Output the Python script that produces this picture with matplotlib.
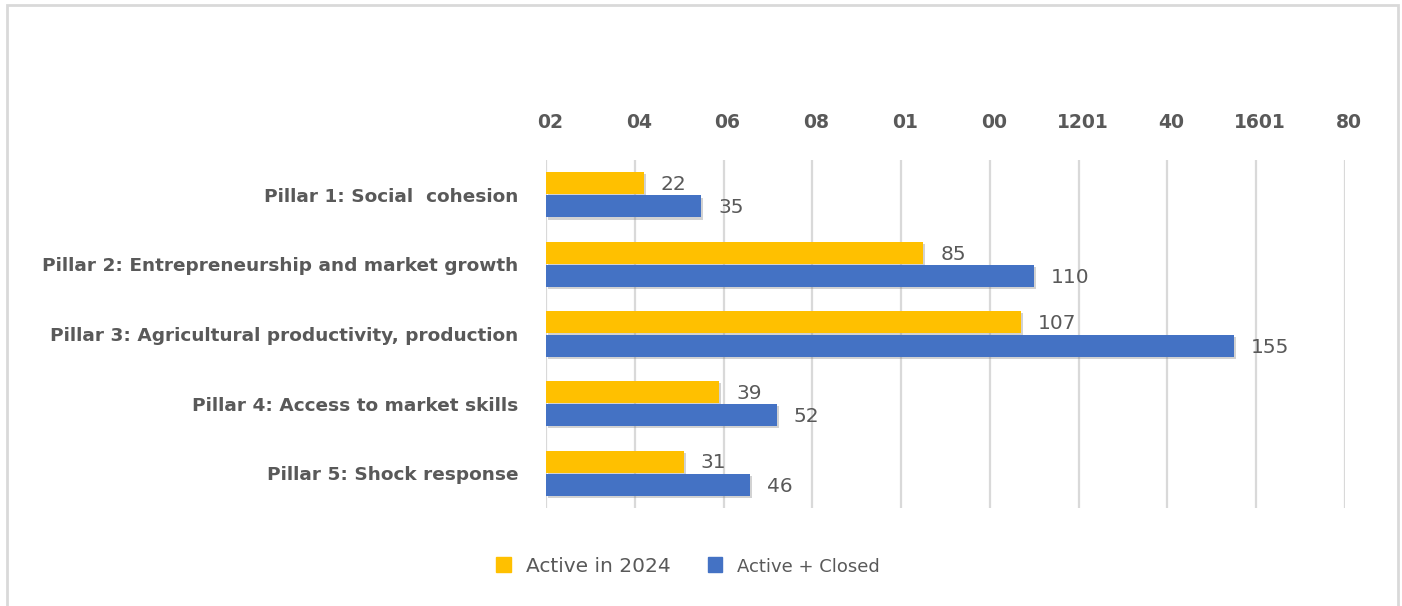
import matplotlib
matplotlib.use("Agg")
import matplotlib.pyplot as plt
import matplotlib.patheffects as pe
import matplotlib.transforms as mtransforms
from matplotlib.patches import Rectangle, Patch
import numpy as np

# Programme counts per pillar
pillars = [
    "Pillar 1: Social  cohesion",
    "Pillar 2: Entrepreneurship and market growth",
    "Pillar 3: Agricultural productivity, production",
    "Pillar 4: Access to market skills",
    "Pillar 5: Shock response",
]
active_2024 = [22, 85, 107, 39, 31]
active_closed = [35, 110, 155, 52, 46]

tick_values = [0, 20, 40, 60, 80, 100, 120, 140, 160, 180]
tick_labels = ["02", "04", "06", "08", "01", "00", "1201", "40", "1601", "80"]

yellow = "#FFC000"
blue = "#4472C4"
grey_text = "#595959"
grid_col = "#D9D9D9"

W, H = 1402, 606
fig = plt.figure(figsize=(W / 100, H / 100), dpi=100)

# light outer frame around the chart area
fig.patches.append(Rectangle((7 / W, -0.05), (1398 - 7) / W, 1.05 - 5 / H,
                             transform=fig.transFigure, fill=False,
                             edgecolor=grid_col, linewidth=2))

ax = fig.add_axes([546 / W, 1 - 508 / H, (1345 - 546) / W, (508 - 160) / H])

y = np.arange(len(pillars))
h = 0.315
shadow = [pe.SimplePatchShadow(offset=(1.5, -1.5), shadow_rgbFace="#808080", alpha=0.35), pe.Normal()]

bars1 = ax.barh(y - h / 2 - 0.01, active_2024, height=h, color=yellow, zorder=3,
                path_effects=shadow)
bars2 = ax.barh(y + h / 2 + 0.01, active_closed, height=h, color=blue, zorder=3,
                path_effects=shadow)

for b, v in zip(bars1, active_2024):
    ax.text(v + 3.8, b.get_y() + b.get_height() / 2 + 0.02, str(v), va="center", ha="left",
            fontsize=14.5, color=grey_text)
for b, v in zip(bars2, active_closed):
    ax.text(v + 3.8, b.get_y() + b.get_height() / 2 + 0.02, str(v), va="center", ha="left",
            fontsize=14.5, color=grey_text)

ax.set_xlim(0, 180)
ax.set_ylim(len(pillars) - 0.5, -0.5)
ax.set_xticks(tick_values)
ax.set_xticklabels(tick_labels, fontsize=13.5, fontweight="bold", color=grey_text)
ax.xaxis.tick_top()
ax.tick_params(axis="x", length=0, pad=20)
# nudge the top labels a little to the right of their gridlines
nudge = mtransforms.ScaledTranslation(4 / 100, 0, fig.dpi_scale_trans)
for lbl in ax.get_xticklabels():
    lbl.set_transform(lbl.get_transform() + nudge)
ax.set_yticks(y)
ax.set_yticklabels(pillars, fontsize=13.3, fontweight="bold", color=grey_text)
ax.tick_params(axis="y", length=0, pad=20)
ax.grid(axis="x", color=grid_col, linewidth=1.6, zorder=0)
for s in ax.spines.values():
    s.set_visible(False)

handles = [Patch(color=yellow, label="Active in 2024"),
           Patch(color=blue, label="Active + Closed")]
leg = fig.legend(handles=handles, loc="center", bbox_to_anchor=(688 / W, 1 - 566 / H),
                 ncol=2, frameon=False, fontsize=14.5, handlelength=0.72, handleheight=0.72,
                 handletextpad=0.75, columnspacing=1.85, labelcolor=grey_text)
leg.get_texts()[1].set_fontsize(13)

fig.savefig("out.png", dpi=100)
